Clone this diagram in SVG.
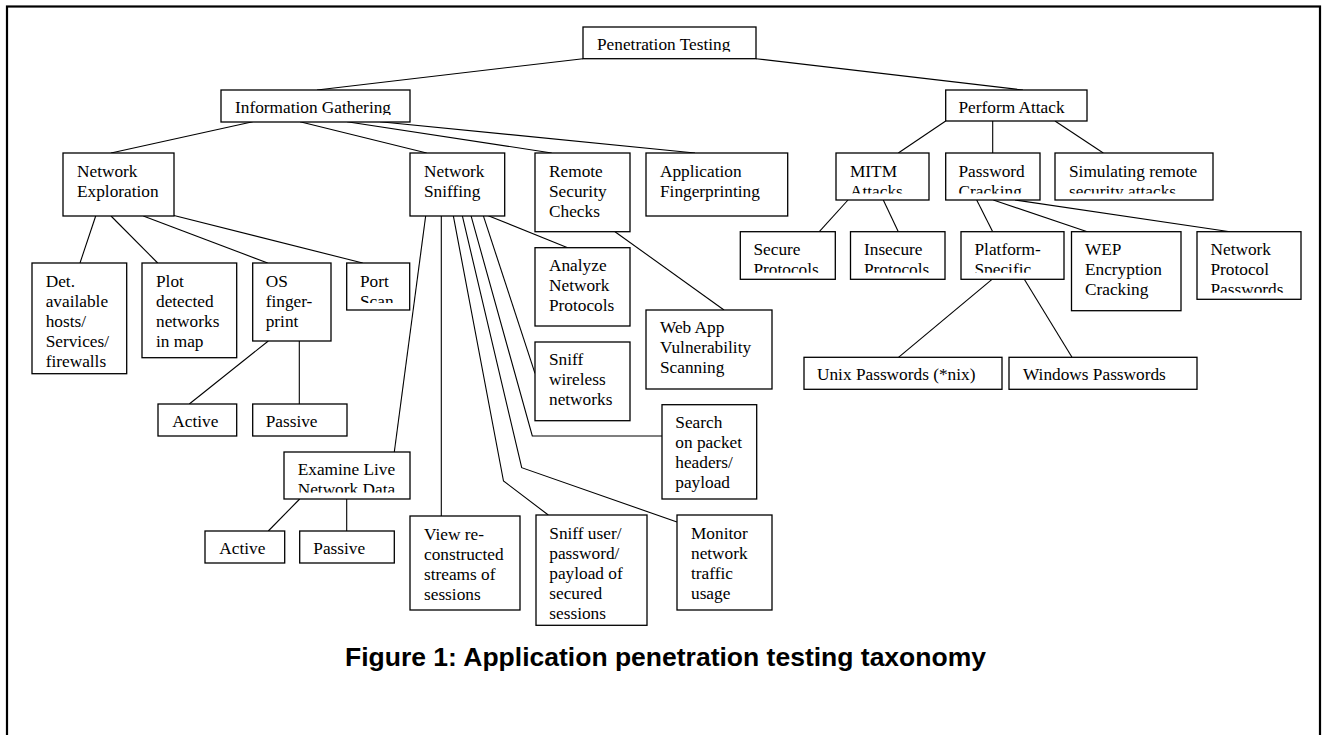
<svg xmlns="http://www.w3.org/2000/svg" width="1325" height="735" viewBox="0 0 1325 735">
<style>
.frame{fill:none;stroke:#000;stroke-width:2.2}
.box{fill:#fff;stroke:#000;stroke-width:1.3}
.t{font-family:"Liberation Serif","Times New Roman",serif;font-size:17.3px;fill:#000}
.c line,.c polyline{stroke:#000;stroke-width:1.1;fill:none}
.cap{font-family:"Liberation Sans",Arial,sans-serif;font-size:26.5px;font-weight:bold;fill:#000}
</style>
<rect width="1325" height="735" fill="#fff"/>
<rect class="frame" x="7" y="6.5" width="1313" height="800"/>
<g class="c" id="connectors">
<line x1="583" y1="58.7" x2="317" y2="90"/>
<line x1="756" y1="58.7" x2="1023" y2="90"/>
<line x1="252.7" y1="121.7" x2="111" y2="153"/>
<line x1="300" y1="121.7" x2="426.7" y2="153"/>
<line x1="347" y1="121.7" x2="551.7" y2="153"/>
<line x1="380" y1="121.7" x2="695" y2="153"/>
<line x1="95.7" y1="216" x2="80" y2="263"/>
<line x1="111" y1="216" x2="157.7" y2="263"/>
<line x1="143.3" y1="216" x2="267.7" y2="263"/>
<line x1="174" y1="215.5" x2="362.7" y2="263"/>
<line x1="268.3" y1="341" x2="189.3" y2="404"/>
<line x1="299.3" y1="341" x2="299.3" y2="404"/>
<line x1="425.7" y1="215.7" x2="394.3" y2="452"/>
<line x1="441.3" y1="215.7" x2="441.3" y2="516"/>
<polyline points="453.3,215.7 503.5,481 548.3,515"/>
<polyline points="462.3,215.7 521.7,467.7 677,522"/>
<polyline points="471,215.7 532.3,436 662,436"/>
<line x1="483.3" y1="215.7" x2="535" y2="373.3"/>
<line x1="488.3" y1="215.7" x2="567.7" y2="247.7"/>
<line x1="299.7" y1="499" x2="268.3" y2="531"/>
<line x1="346.7" y1="499" x2="346.7" y2="531"/>
<line x1="615" y1="231.7" x2="724" y2="310"/>
<line x1="945.7" y1="121" x2="898.3" y2="153"/>
<line x1="992.7" y1="121" x2="992.7" y2="153"/>
<line x1="1055" y1="121" x2="1103.3" y2="153"/>
<line x1="848" y1="200" x2="819.3" y2="231.7"/>
<line x1="883.3" y1="200" x2="898.3" y2="231.7"/>
<line x1="976.7" y1="200" x2="992.7" y2="231.7"/>
<line x1="993.3" y1="200" x2="1087.3" y2="231.7"/>
<line x1="1015" y1="200" x2="1230" y2="231.7"/>
<line x1="992" y1="279.3" x2="898.5" y2="357.3"/>
<line x1="1024.3" y1="279.3" x2="1072" y2="357.3"/>
</g>
<g id="n-pentest"><rect class="box" x="583" y="27" width="173" height="31.7"/><clipPath id="k1"><rect x="583" y="27" width="173" height="24.7"/></clipPath><text class="t" clip-path="url(#k1)" x="597" y="50">Penetration Testing</text></g>
<g id="n-infogather"><rect class="box" x="221" y="90" width="189" height="32"/><clipPath id="k2"><rect x="221" y="90" width="189" height="25"/></clipPath><text class="t" clip-path="url(#k2)" x="235" y="113">Information Gathering</text></g>
<g id="n-perform"><rect class="box" x="945.7" y="90" width="141.3" height="31"/><clipPath id="k3"><rect x="945.7" y="90" width="141.3" height="24"/></clipPath><text class="t" clip-path="url(#k3)" x="958.5" y="113">Perform Attack</text></g>
<g id="n-netexp"><rect class="box" x="63" y="153" width="111" height="63"/><text class="t" x="77" y="176.5"><tspan x="77">Network</tspan><tspan x="77" dy="20">Exploration</tspan></text></g>
<g id="n-netsniff"><rect class="box" x="410" y="153" width="94.7" height="63"/><text class="t" x="424" y="176.5"><tspan x="424">Network</tspan><tspan x="424" dy="20">Sniffing</tspan></text></g>
<g id="n-remote"><rect class="box" x="535" y="153" width="95" height="78.7"/><text class="t" x="549" y="176.5"><tspan x="549">Remote</tspan><tspan x="549" dy="20">Security</tspan><tspan x="549" dy="20">Checks</tspan></text></g>
<g id="n-appfp"><rect class="box" x="646" y="153" width="141.7" height="63"/><text class="t" x="660" y="176.5"><tspan x="660">Application</tspan><tspan x="660" dy="20">Fingerprinting</tspan></text></g>
<g id="n-mitm"><rect class="box" x="836" y="153" width="93" height="47"/><clipPath id="k4"><rect x="836" y="153" width="93" height="40.5"/></clipPath><text class="t" clip-path="url(#k4)" x="850" y="176.5"><tspan x="850">MITM</tspan><tspan x="850" dy="20">Attacks</tspan></text></g>
<g id="n-pwcrack"><rect class="box" x="945.7" y="153" width="94.3" height="47"/><clipPath id="k5"><rect x="945.7" y="153" width="94.3" height="40.5"/></clipPath><text class="t" clip-path="url(#k5)" x="958.5" y="176.5"><tspan x="958.5">Password</tspan><tspan x="958.5" dy="20">Cracking</tspan></text></g>
<g id="n-simulate"><rect class="box" x="1055" y="153" width="158" height="47"/><clipPath id="k6"><rect x="1055" y="153" width="158" height="40.5"/></clipPath><text class="t" clip-path="url(#k6)" x="1069" y="176.5"><tspan x="1069">Simulating remote</tspan><tspan x="1069" dy="20">security attacks</tspan></text></g>
<g id="n-det"><rect class="box" x="32" y="263" width="94.7" height="110.7"/><text class="t" x="45.7" y="286.5"><tspan x="45.7">Det.</tspan><tspan x="45.7" dy="20">available</tspan><tspan x="45.7" dy="20">hosts/</tspan><tspan x="45.7" dy="20">Services/</tspan><tspan x="45.7" dy="20">firewalls</tspan></text></g>
<g id="n-plot"><rect class="box" x="142" y="263" width="94.7" height="94.7"/><text class="t" x="156" y="286.5"><tspan x="156">Plot</tspan><tspan x="156" dy="20">detected</tspan><tspan x="156" dy="20">networks</tspan><tspan x="156" dy="20">in map</tspan></text></g>
<g id="n-osfp"><rect class="box" x="252.7" y="263" width="78.3" height="78"/><text class="t" x="265.7" y="286.5"><tspan x="265.7">OS</tspan><tspan x="265.7" dy="20">finger-</tspan><tspan x="265.7" dy="20">print</tspan></text></g>
<g id="n-port"><rect class="box" x="346.7" y="263" width="63" height="47"/><clipPath id="k7"><rect x="346.7" y="263" width="63" height="40"/></clipPath><text class="t" clip-path="url(#k7)" x="360" y="286.5"><tspan x="360">Port</tspan><tspan x="360" dy="20">Scan</tspan></text></g>
<g id="n-active1"><rect class="box" x="158" y="404" width="78.7" height="32"/><text class="t" x="172.3" y="426.7">Active</text></g>
<g id="n-passive1"><rect class="box" x="252.7" y="404" width="94.3" height="32"/><text class="t" x="265.7" y="426.7">Passive</text></g>
<g id="n-examine"><rect class="box" x="284" y="452" width="126" height="47"/><clipPath id="k8"><rect x="284" y="452" width="126" height="40.5"/></clipPath><text class="t" clip-path="url(#k8)" x="297.7" y="475.2"><tspan x="297.7">Examine Live</tspan><tspan x="297.7" dy="20">Network Data</tspan></text></g>
<g id="n-active2"><rect class="box" x="205" y="531" width="79.7" height="32"/><text class="t" x="219.3" y="553.7">Active</text></g>
<g id="n-passive2"><rect class="box" x="299.7" y="531" width="94.6" height="32"/><text class="t" x="313.3" y="553.7">Passive</text></g>
<g id="n-view"><rect class="box" x="410" y="516" width="110" height="94"/><text class="t" x="424" y="539.5"><tspan x="424">View re-</tspan><tspan x="424" dy="20">constructed</tspan><tspan x="424" dy="20">streams of</tspan><tspan x="424" dy="20">sessions</tspan></text></g>
<g id="n-sniffuser"><rect class="box" x="536" y="515" width="111" height="110.3"/><text class="t" x="549.3" y="538.5"><tspan x="549.3">Sniff user/</tspan><tspan x="549.3" dy="20">password/</tspan><tspan x="549.3" dy="20">payload of</tspan><tspan x="549.3" dy="20">secured</tspan><tspan x="549.3" dy="20">sessions</tspan></text></g>
<g id="n-monitor"><rect class="box" x="677" y="515" width="95" height="95"/><text class="t" x="691" y="538.5"><tspan x="691">Monitor</tspan><tspan x="691" dy="20">network</tspan><tspan x="691" dy="20">traffic</tspan><tspan x="691" dy="20">usage</tspan></text></g>
<g id="n-search"><rect class="box" x="662" y="404.7" width="94.7" height="94.3"/><text class="t" x="675.3" y="428"><tspan x="675.3">Search</tspan><tspan x="675.3" dy="20">on packet</tspan><tspan x="675.3" dy="20">headers/</tspan><tspan x="675.3" dy="20">payload</tspan></text></g>
<g id="n-analyze"><rect class="box" x="535" y="247.7" width="95" height="78.3"/><text class="t" x="549" y="271"><tspan x="549">Analyze</tspan><tspan x="549" dy="20">Network</tspan><tspan x="549" dy="20">Protocols</tspan></text></g>
<g id="n-wireless"><rect class="box" x="535" y="342" width="95" height="78.7"/><text class="t" x="549" y="365.3"><tspan x="549">Sniff</tspan><tspan x="549" dy="20">wireless</tspan><tspan x="549" dy="20">networks</tspan></text></g>
<g id="n-webapp"><rect class="box" x="646" y="310" width="126" height="79"/><text class="t" x="660" y="333"><tspan x="660">Web App</tspan><tspan x="660" dy="20">Vulnerability</tspan><tspan x="660" dy="20">Scanning</tspan></text></g>
<g id="n-secure"><rect class="box" x="740.3" y="231.7" width="95" height="47.6"/><clipPath id="k9"><rect x="740.3" y="231.7" width="95" height="41"/></clipPath><text class="t" clip-path="url(#k9)" x="753.5" y="255"><tspan x="753.5">Secure</tspan><tspan x="753.5" dy="20">Protocols</tspan></text></g>
<g id="n-insecure"><rect class="box" x="850.5" y="231.7" width="94.5" height="47.6"/><clipPath id="k10"><rect x="850.5" y="231.7" width="94.5" height="41"/></clipPath><text class="t" clip-path="url(#k10)" x="864" y="255"><tspan x="864">Insecure</tspan><tspan x="864" dy="20">Protocols</tspan></text></g>
<g id="n-platform"><rect class="box" x="961" y="231.7" width="103" height="47.6"/><clipPath id="k11"><rect x="961" y="231.7" width="103" height="41"/></clipPath><text class="t" clip-path="url(#k11)" x="974.5" y="255"><tspan x="974.5">Platform-</tspan><tspan x="974.5" dy="20">Specific</tspan></text></g>
<g id="n-wep"><rect class="box" x="1071.5" y="231.7" width="109.5" height="79"/><text class="t" x="1085" y="255"><tspan x="1085">WEP</tspan><tspan x="1085" dy="20">Encryption</tspan><tspan x="1085" dy="20">Cracking</tspan></text></g>
<g id="n-netproto"><rect class="box" x="1197" y="231.7" width="104" height="67.6"/><clipPath id="k12"><rect x="1197" y="231.7" width="104" height="61"/></clipPath><text class="t" clip-path="url(#k12)" x="1210.5" y="255"><tspan x="1210.5">Network</tspan><tspan x="1210.5" dy="20">Protocol</tspan><tspan x="1210.5" dy="20">Passwords</tspan></text></g>
<g id="n-unix"><rect class="box" x="804" y="357.3" width="198" height="32"/><text class="t" x="817" y="380">Unix Passwords (*nix)</text></g>
<g id="n-windows"><rect class="box" x="1009" y="357.3" width="188" height="32"/><text class="t" x="1023" y="380">Windows Passwords</text></g>
<text class="cap" x="665.5" y="666" text-anchor="middle">Figure 1: Application penetration testing taxonomy</text>
</svg>
